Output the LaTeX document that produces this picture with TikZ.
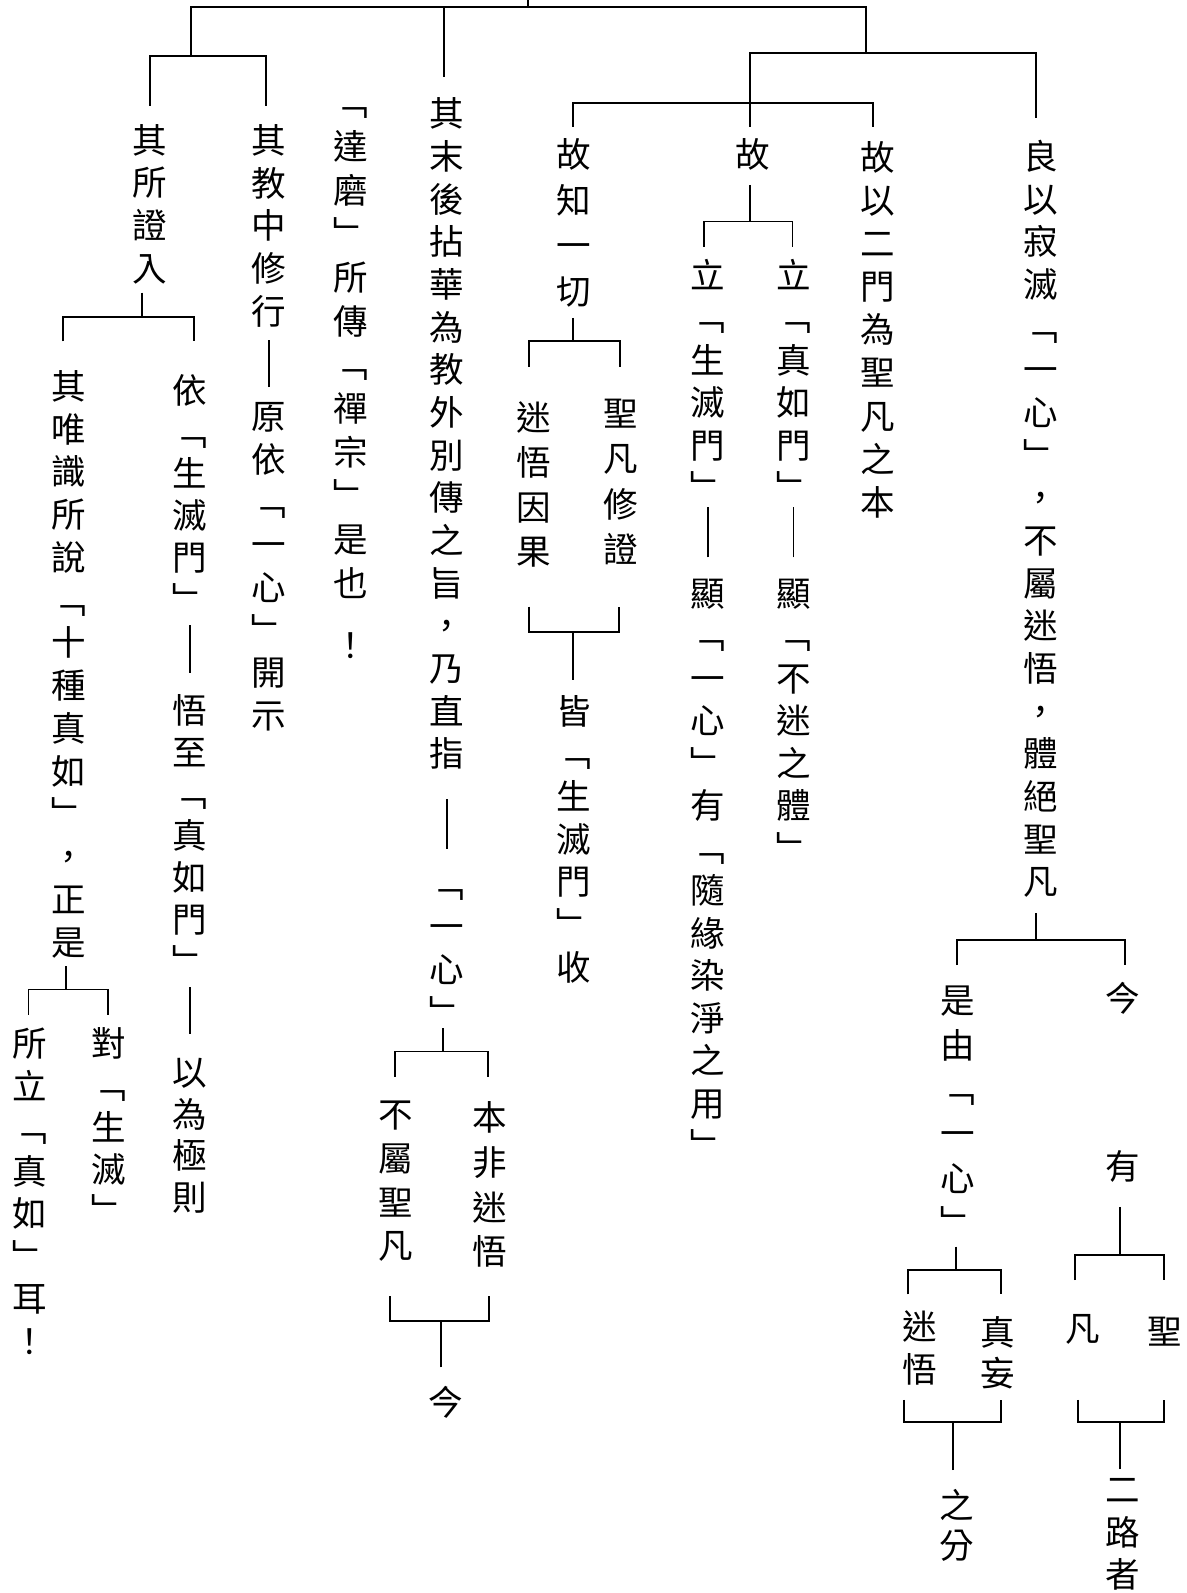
\documentclass[tikz,border=0pt]{standalone}
\usepackage{fontspec}
\newfontfamily\cjk{Noto Sans CJK TC}
\newlength\vp \newlength\vw
\def\D{dashmarker}
\def\Lb{﹁}\def\Rb{﹂}\def\Bk{}
\def\ExC{\raisebox{-18pt}{！}}
\def\vitem#1{\hbox to\vw{\hss\vbox to\vp{\vss\hbox{\raisebox{0pt}[0.88em][0.12em]{#1}}\vss}\hss}}
\def\vdsh#1#2#3{\hbox to\vw{\hss\vbox to #1{\vskip\dimexpr(#1-#2)/2+#3\relax\hbox{\rule{1.7pt}{#2}}\vss}\hss}}
\def\vcl#1{\ifx#1\relax\let\vnext\relax\else\ifx#1\D\let\vnext\vcldash\else\vitem{#1}\let\vnext\vcl\fi\fi\vnext}
\def\vcldash#1#2#3{\vdsh{#1}{#2}{#3}\vcl}
\newcommand\vcol[2][42pt]{\setlength\vp{#1}\setlength\vw{1.2em}\vbox{\offinterlineskip\vcl#2\relax}}
\newcommand\brD[7]{%
  \coordinate (#1s) at (#2,#3); \coordinate (#1b) at (#2,#4);
  \coordinate (#1l) at (#5,#7); \coordinate (#1r) at (#6,#7);
  \draw[conn] (#1s) -- (#1b); \draw[conn] (#1l) |- (#1b) -| (#1r);}
\tikzset{
  conn/.style={line width=1.8pt},
  col/.style={inner sep=0pt, outer sep=0pt, anchor=north, font=\cjk\fontsize{34pt}{34pt}\selectfont}
}
\begin{document}
\begin{tikzpicture}[x=1pt,y=-1pt]
\useasboundingbox (0,0) rectangle (1168,1568);
% top tree
\coordinate (r0) at (520,0); \coordinate (r1) at (520,7);
\coordinate (tL) at (188,55); \coordinate (tR) at (852,52); \coordinate (tM) at (437,76);
\draw[conn] (r0) -- (r1);
\draw[conn] (tL) |- (tR |- r1) -- (tR);
\draw[conn] (tM |- r1) -- (tM);
\coordinate (l1) at (148,104); \coordinate (l2) at (262,104);
\draw[conn] (l1) |- (tL) -| (l2);
\coordinate (rL) at (738,125); \coordinate (rR) at (1020,116);
\draw[conn] (rL) |- (tR) -| (rR);
\coordinate (gL) at (564,125); \coordinate (gR) at (859,125); \coordinate (gB) at (700,101);
\draw[conn] (gL) |- (gB) -| (gR);
% brackets
\brD{k1}{140}{288}{312}{62}{191}{336}
\brD{k2}{65}{951}{974}{28}{106}{999}
\brD{k3}{564}{313}{336}{521}{610}{361}
\brD{k4}{564}{669}{622}{521}{609}{597}
\brD{k5}{738}{182}{218}{693}{780}{243}
\brD{k6}{436}{1012}{1035}{389}{480}{1060}
\brD{k7}{434}{1346}{1300}{384}{481}{1276}
\brD{k8}{1020}{899}{925}{942}{1107}{950}
\brD{k9}{941}{1227}{1250}{894}{985}{1274}
\brD{k10}{938}{1447}{1400}{890}{985}{1378}
\brD{k11}{1102}{1188}{1235}{1058}{1146}{1260}
\brD{k12}{1102}{1446}{1400}{1061}{1146}{1378}
% text columns
\node[col] (nA) at (147,117) {\vcol[42pt]{其所證入}};
\node[col] (nB) at (265,117) {\vcol[42pt]{其教中修行\D{62pt}{46pt}{0pt}原依\Lb 一心\Rb 開示}};
\node[col] (nC) at (345,79.5) {\vcol[43pt]{\Lb 達磨\Rb 所傳\Lb 禪宗\Rb 是也\ExC}};
\node[col] (nD) at (440,91) {\vcol[42pt]{其末後拈華為教外別傳之旨，乃直指\D{86pt}{49pt}{5pt}\Lb 一心\Rb}};
\node[col] (nD1) at (390,1075.5) {\vcol[43pt]{不屬聖凡}};
\node[col] (nD2) at (482,1078) {\vcol[44pt]{本非迷悟}};
\node[col] (nD3) at (439,1359) {\vcol[42pt]{今}};
\node[col] (nE) at (565,129.5) {\vcol[45pt]{故知一切}};
\node[col] (nE1) at (525,389) {\vcol[44pt]{迷悟因果}};
\node[col] (nE2) at (611,384.75) {\vcol[44.5pt]{聖凡修證}};
\node[col] (nE3) at (565,679) {\vcol[42pt]{皆\Lb 生滅門\Rb 收}};
\node[col] (nF) at (741,131) {\vcol[42pt]{故}};
\node[col] (nF1) at (697,250.1) {\vcol[41.8pt]{立\Lb 生滅門\Rb\D{62.2pt}{49pt}{-8pt}顯\Lb 一心\Rb 有\Lb 隨緣染淨之用\Rb}};
\node[col] (nF2) at (781,250.1) {\vcol[41.8pt]{立\Lb 真如門\Rb\D{62.2pt}{49pt}{-8pt}顯\Lb 不迷之體\Rb}};
\node[col] (nG) at (864,133.8) {\vcol[42.4pt]{故以二門為聖凡之本}};
\node[col] (nH) at (1024,133) {\vcol[42pt]{良以寂滅\Lb 一心\Rb ，不屬迷悟，體絕聖凡}};
\node[col] (nH1) at (943,963.2) {\vcol[43.6pt]{是由\Lb 一心\Rb}};
\node[col] (nH2) at (1105,962.4) {\vcol[41.25pt]{今\Bk\Bk\Bk 有}};
\node[col] (nH1a) at (905,1285) {\vcol[42pt]{迷悟}};
\node[col] (nH1b) at (982,1290.5) {\vcol[41pt]{真妄}};
\node[col] (nH2a) at (1066,1287) {\vcol[42pt]{凡}};
\node[col] (nH2b) at (1146,1289) {\vcol[42pt]{聖}};
\node[col] (nH3) at (942,1462.5) {\vcol[39pt]{之分}};
\node[col] (nH4) at (1105,1445) {\vcol[42pt]{二路者}};
\node[col] (nA1) at (68,359) {\vcol[42.1pt]{其唯識所說\Lb 十種真如\Rb ，正是}};
\node[col] (nA1a) at (29,1006) {\vcol[41.9pt]{所立\Lb 真如\Rb 耳！}};
\node[col] (nA1b) at (107,1006) {\vcol[41.3pt]{對\Lb 生滅\Rb}};
\node[col] (nA2) at (187,363.4) {\vcol[41.2pt]{依\Lb 生滅門\Rb\D{67.8pt}{47pt}{-6pt}悟至\Lb 真如門\Rb\D{67.8pt}{46pt}{-6pt}以為極則}};
\end{tikzpicture}
\end{document}
